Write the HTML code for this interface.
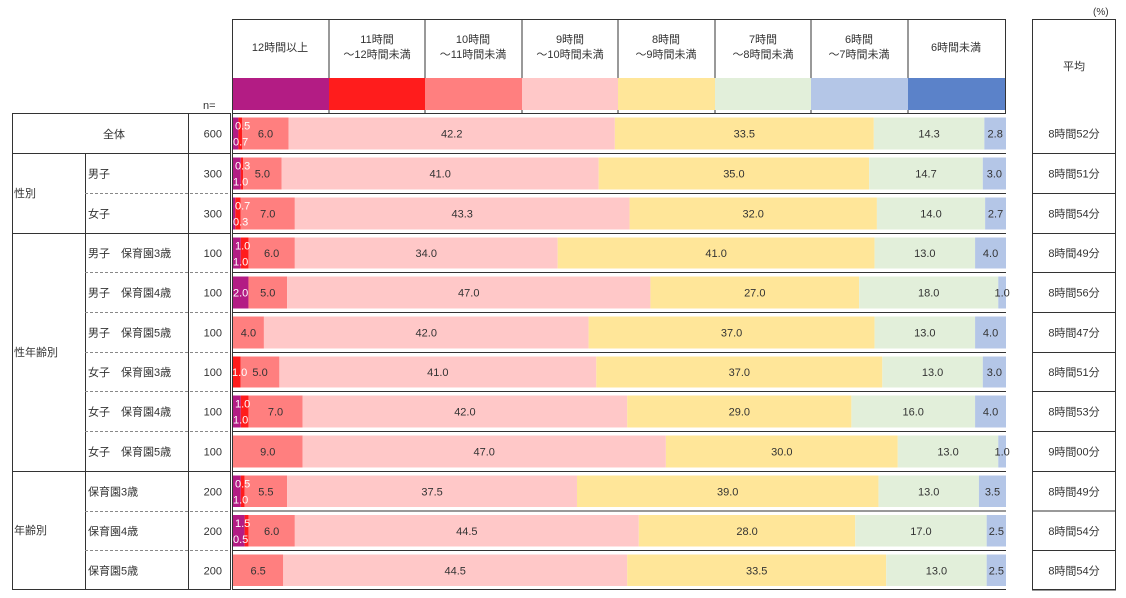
<!DOCTYPE html>
<html><head><meta charset="utf-8"><style>
body{margin:0;background:#fff}
svg{display:block;font-family:"Liberation Sans","Noto Sans CJK JP",sans-serif}
</style></head><body>
<svg width="1126" height="598" viewBox="0 0 1126 598" xmlns="http://www.w3.org/2000/svg">
<g font-size="11" fill="#333">
<text x="1093" y="15" font-size="10">(%)</text>
<rect x="232.5" y="19.5" width="773" height="94" fill="none" stroke="#333"/>
<g stroke="#333">
<line x1="329" y1="19" x2="329" y2="113"/><line x1="425" y1="19" x2="425" y2="113"/>
<line x1="522" y1="19" x2="522" y2="113"/><line x1="618" y1="19" x2="618" y2="113"/>
<line x1="715" y1="19" x2="715" y2="113"/><line x1="811" y1="19" x2="811" y2="113"/>
<line x1="908" y1="19" x2="908" y2="113"/>
</g>
<rect x="233" y="78" width="96" height="32" fill="#b31c84"/>
<rect x="329" y="78" width="96" height="32" fill="#ff1c1c"/>
<rect x="425" y="78" width="97" height="32" fill="#ff7f7f"/>
<rect x="522" y="78" width="96" height="32" fill="#ffc8c8"/>
<rect x="618" y="78" width="97" height="32" fill="#ffe699"/>
<rect x="715" y="78" width="96" height="32" fill="#e2efda"/>
<rect x="811" y="78" width="97" height="32" fill="#b4c6e7"/>
<rect x="908" y="78" width="97" height="32" fill="#5b82c9"/>
<g text-anchor="middle">
<text x="280" y="51">12時間以上</text>
<text x="377" y="43">11時間</text><text x="377" y="58">～12時間未満</text>
<text x="473" y="43">10時間</text><text x="473" y="58">～11時間未満</text>
<text x="570" y="43">9時間</text><text x="570" y="58">～10時間未満</text>
<text x="666" y="43">8時間</text><text x="666" y="58">～9時間未満</text>
<text x="763" y="43">7時間</text><text x="763" y="58">～8時間未満</text>
<text x="859" y="43">6時間</text><text x="859" y="58">～7時間未満</text>
<text x="956" y="51">6時間未満</text>
<text x="1074" y="70">平均</text>
</g>
<text x="203" y="109">n=</text>
<rect x="1032.5" y="19.5" width="83" height="570" fill="none" stroke="#333"/>
<rect x="12.5" y="113.5" width="218" height="476" fill="none" stroke="#333"/>
<g stroke="#333">
<line x1="232.5" y1="113" x2="232.5" y2="590"/>
<line x1="188.5" y1="113" x2="188.5" y2="590"/>
<line x1="85.5" y1="153" x2="85.5" y2="590"/>
<line x1="12" y1="153.5" x2="230" y2="153.5"/>
<line x1="12" y1="233.5" x2="230" y2="233.5"/>
<line x1="12" y1="471.5" x2="230" y2="471.5"/>
<line x1="232" y1="589.5" x2="1006" y2="589.5"/>
</g>
<g stroke="#888" stroke-dasharray="3,2">
<line x1="85" y1="193.5" x2="230" y2="193.5"/>
<line x1="85" y1="272.5" x2="230" y2="272.5"/><line x1="85" y1="312.5" x2="230" y2="312.5"/>
<line x1="85" y1="352.5" x2="230" y2="352.5"/><line x1="85" y1="391.5" x2="230" y2="391.5"/>
<line x1="85" y1="431.5" x2="230" y2="431.5"/>
<line x1="85" y1="511.5" x2="230" y2="511.5"/><line x1="85" y1="550.5" x2="230" y2="550.5"/>
</g>
<text x="103" y="138">全体</text>
<text x="14" y="197">性別</text>
<text x="14" y="356">性年齢別</text>
<text x="14" y="534">年齢別</text>
<g id="rows"></g>
</g>
</svg>
<script>
var rows=[
["全体","600",[0.7,0.5,6.0,42.2,33.5,14.3,2.8,0],"8時間52分",["0.5","0.7"]],
["男子","300",[1.0,0.3,5.0,41.0,35.0,14.7,3.0,0],"8時間51分",["0.3","1.0"]],
["女子","300",[0.3,0.7,7.0,43.3,32.0,14.0,2.7,0],"8時間54分",["0.7","0.3"]],
["男子　保育園3歳","100",[1.0,1.0,6.0,34.0,41.0,13.0,4.0,0],"8時間49分",["1.0","1.0"]],
["男子　保育園4歳","100",[2.0,0,5.0,47.0,27.0,18.0,1.0,0],"8時間56分",null],
["男子　保育園5歳","100",[0,0,4.0,42.0,37.0,13.0,4.0,0],"8時間47分",null],
["女子　保育園3歳","100",[0,1.0,5.0,41.0,37.0,13.0,3.0,0],"8時間51分",null],
["女子　保育園4歳","100",[1.0,1.0,7.0,42.0,29.0,16.0,4.0,0],"8時間53分",["1.0","1.0"]],
["女子　保育園5歳","100",[0,0,9.0,47.0,30.0,13.0,1.0,0],"9時間00分",null],
["保育園3歳","200",[1.0,0.5,5.5,37.5,39.0,13.0,3.5,0],"8時間49分",["0.5","1.0"]],
["保育園4歳","200",[1.5,0.5,6.0,44.5,28.0,17.0,2.5,0],"8時間54分",["1.5","0.5"]],
["保育園5歳","200",[0,0,6.5,44.5,33.5,13.0,2.5,0],"8時間54分",null]];
var cols=["#b31c84","#ff1c1c","#ff7f7f","#ffc8c8","#ffe699","#e2efda","#b4c6e7","#5b82c9"];
var ys=[113.5,153.5,193.5,233.5,272.5,312.5,352.5,391.5,431.5,471.5,511,550.5,590];
var g=document.getElementById("rows"),s="";
for(var i=0;i<rows.length;i++){
 var r=rows[i],y=ys[i],h=ys[i+1]-y,cy=y+h/2+4;
 if(i>0){s+='<text x="88" y="'+cy+'">'+r[0]+'</text>';}
 s+='<text x="222" y="'+cy+'" text-anchor="end">'+r[1]+'</text>';
 s+='<text x="1074" y="'+cy+'" text-anchor="middle">'+r[3]+'</text>';
 s+='<line x1="1032" y1="'+(y+h)+'" x2="1116" y2="'+(y+h)+'" stroke="#333"/>';
 if(i>0)s+='<line x1="232" y1="'+y+'" x2="1006" y2="'+y+'" stroke="#333"/>';
 var x=233,v=r[2];
 for(var k=0;k<8;k++){
  var w=v[k]*7.73; if(w<=0)continue;
  s+='<rect x="'+x+'" y="'+(y+4)+'" width="'+w+'" height="'+(h-8)+'" fill="'+cols[k]+'"/>';
  if(k>=2&&v[k]>=1){s+='<text x="'+(x+w/2)+'" y="'+cy+'" text-anchor="middle">'+v[k].toFixed(1)+'</text>';}
  x+=w;
 }
 if(r[4]){
  s+='<text x="235" y="'+(y+16)+'" fill="#fff">'+r[4][0]+'</text>';
  s+='<text x="233" y="'+(y+32)+'" fill="#fff">'+r[4][1]+'</text>';
 } else if(v[0]>0){s+='<text x="233" y="'+cy+'" fill="#fff">'+v[0].toFixed(1)+'</text>';}
 else if(v[1]>0){s+='<text x="232" y="'+cy+'" fill="#fff">'+v[1].toFixed(1)+'</text>';}
}
g.innerHTML=s;
</script>
</body></html>
